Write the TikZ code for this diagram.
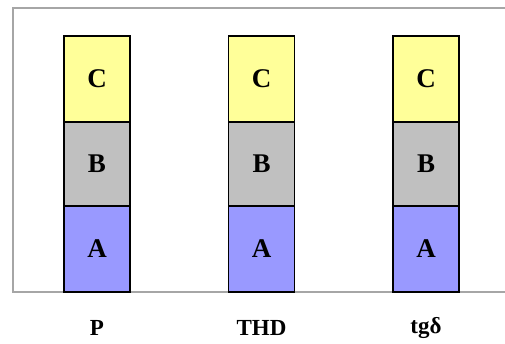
\documentclass[tikz,border=0pt]{standalone}
\usepackage{fontspec}
\setmainfont{Liberation Serif}
\begin{document}
\begin{tikzpicture}[x=1pt,y=-1pt,
  seg/.style={draw=black,line width=1.3pt,minimum width=66pt,inner sep=0pt,
    font=\fontsize{27}{30}\selectfont\bfseries},
  segC/.style={seg,fill=yellowC,minimum height=86pt},
  segB/.style={seg,fill=grayB,minimum height=84pt},
  segA/.style={seg,fill=blueA,minimum height=86pt},
  cat/.style={font=\fontsize{23}{26}\selectfont\bfseries,inner sep=0pt}]
\definecolor{yellowC}{HTML}{FFFF99}
\definecolor{grayB}{HTML}{C0C0C0}
\definecolor{blueA}{HTML}{9999FF}
\definecolor{framegray}{HTML}{A6A6A6}
\useasboundingbox (0,0) rectangle (505,344);
\fill[white] (0,0) rectangle (505,344);
% plot frame: top, left and bottom edges
\draw[framegray,line width=1.5pt] (505,8) -- (13,8) -- (13,292) -- (505,292);
% stacked bars
\foreach \n/\x in {p/97, thd/261.5, tg/426}{
  \node[segC] (\n C) at (\x,79) {C};
  \node[segB] (\n B) at (\x,164) {B};
  \node[segA] (\n A) at (\x,249) {A};
}
% category labels
\node[cat] (lp) at (97,328) {P};
\node[cat] (lthd) at (261.5,328) {THD};
\node[cat] (ltg) at (426,328) {tgδ};
\end{tikzpicture}
\end{document}
